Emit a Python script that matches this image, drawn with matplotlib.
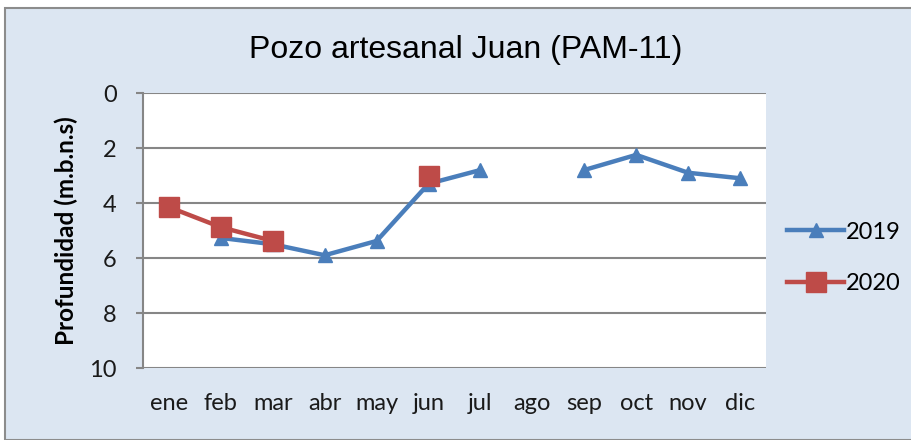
import matplotlib
matplotlib.use('Agg')

import matplotlib.pyplot as plt
import matplotlib.patches as patches
import numpy as np

# Data
months = ['ene', 'feb', 'mar', 'abr', 'may', 'jun', 'jul', 'ago', 'sep', 'oct', 'nov', 'dic']
depth_2019 = [np.nan, 5.27, 5.5, 5.9, 5.38, 3.3, 2.8, np.nan, 2.8, 2.25, 2.9, 3.1]
depth_2020 = [4.15, 4.88, 5.38, np.nan, np.nan, 3.02, np.nan, np.nan, np.nan, np.nan, np.nan, np.nan]
yticks = [0, 2, 4, 6, 8, 10]

BLUE = '#4A7EBB'
RED = '#BE4B48'
GRID = '#868686'
BG = '#DCE6F2'

fig = plt.figure(figsize=(9.12, 4.4), dpi=100)
fig.patch.set_facecolor('white')

# Chart area background with gray frame (behind the axes)
frame = patches.Rectangle((5 / 912, 0), 1.0, 1 - 8 / 440, transform=fig.transFigure,
                          facecolor=BG, edgecolor='#8C8C8C', linewidth=1.5, zorder=-10)
fig.patches.append(frame)

ax = fig.add_axes([143 / 912, 1 - 368 / 440, 623 / 912, 275 / 440])
ax.set_zorder(1)
ax.set_facecolor('white')

x = np.arange(len(months))
ax.plot(x, depth_2019, color=BLUE, lw=3.2, marker='^', markersize=10,
        label='2019', zorder=3)
ax.plot(x, depth_2020, color=RED, lw=3.2, marker='s', markersize=14,
        label='2020', zorder=4)

ax.set_xlim(-0.5, len(months) - 0.5)
ax.set_ylim(10, 0)
ax.set_yticks(yticks)
ax.set_xticks(x)
ax.set_xticklabels(months)

tick_font = 'Lato'
for lbl in ax.get_xticklabels() + ax.get_yticklabels():
    lbl.set_fontfamily(tick_font)
    lbl.set_fontsize(17)
    lbl.set_color('#1a1a1a')

ax.tick_params(axis='x', length=0, pad=18)
ax.tick_params(axis='y', length=5, width=1.5, color=GRID, pad=14)

ax.yaxis.grid(True, color=GRID, lw=1.5)
ax.set_axisbelow(True)
for side in ['top', 'right', 'bottom']:
    ax.spines[side].set_visible(False)
ax.spines['left'].set_color(GRID)
ax.spines['left'].set_linewidth(1.5)

ax.set_ylabel('Profundidad (m.b.n.s)', fontfamily=tick_font, fontsize=17.5,
              fontweight='bold', labelpad=8)

fig.text(466 / 912, 1 - 50 / 440, 'Pozo artesanal Juan (PAM-11)',
         ha='center', va='center', fontsize=23, fontfamily='Liberation Sans')

leg = ax.legend(loc='center left', bbox_to_anchor=(766 / 912, 1 - 258 / 440),
                bbox_transform=fig.transFigure, frameon=False,
                prop={'family': tick_font, 'size': 17}, handlelength=2.4,
                handletextpad=0.1, labelspacing=1.3)

fig.savefig('out.png', dpi=100, facecolor=fig.get_facecolor())
